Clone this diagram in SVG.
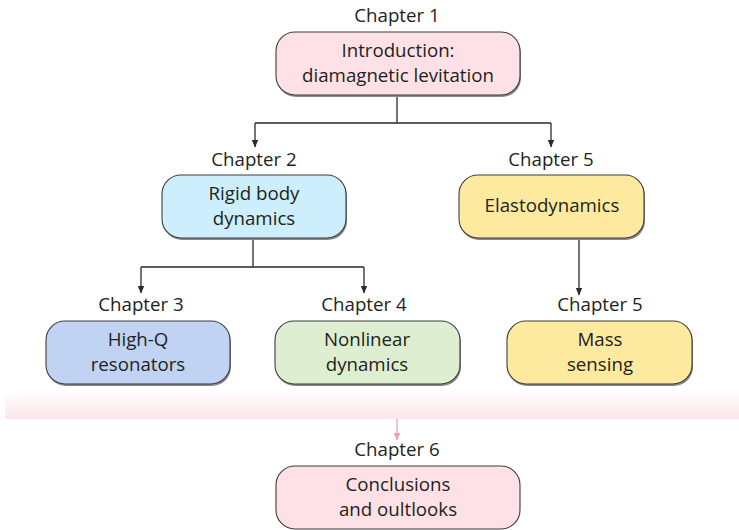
<svg xmlns="http://www.w3.org/2000/svg" width="739" height="530" viewBox="0 0 739 530">
<defs>
<marker id="ah" markerWidth="8" markerHeight="10" refX="7" refY="4" orient="auto" markerUnits="userSpaceOnUse" viewBox="0 0 8 8">
<path d="M0,0.8 L7.5,4 L0,7.2 Z" fill="#2b2b2b"/>
</marker>
<marker id="ahp" markerWidth="8" markerHeight="10" refX="7" refY="4" orient="auto" markerUnits="userSpaceOnUse" viewBox="0 0 8 8">
<path d="M0,0.8 L7.5,4 L0,7.2 Z" fill="#f39aac"/>
</marker>
<linearGradient id="band" x1="0" y1="0" x2="0" y2="1">
<stop offset="0" stop-color="#ffffff"/>
<stop offset="1" stop-color="#fde6ea"/>
</linearGradient>
</defs>
<style>
text{font-family:"Open Sans","Noto Sans","Liberation Sans",sans-serif;font-size:18.7px;fill:#231f20;text-anchor:middle}
.box{stroke:#3d3d3d;stroke-width:1.1}
.sh{fill:#8a8a8a}
.con{fill:none;stroke:#2b2b2b;stroke-width:1.3}
</style>
<rect x="5" y="390" width="734" height="29" fill="url(#band)"/>
<g id="connectors">
<path class="con" d="M397,95 V123 M255,123 H551"/>
<path class="con" d="M255,123 V147" marker-end="url(#ah)"/>
<path class="con" d="M551,123 V147" marker-end="url(#ah)"/>
<path class="con" d="M253,238 V267 M141,267 H364"/>
<path class="con" d="M141,267 V293" marker-end="url(#ah)"/>
<path class="con" d="M364,267 V293" marker-end="url(#ah)"/>
<path class="con" d="M579,238 V295" marker-end="url(#ah)"/>
<path d="M397,419 V440" fill="none" stroke="#f39aac" stroke-width="1.2" marker-end="url(#ahp)"/>
</g>
<g id="ch1">
<text x="397" y="22">Chapter 1</text>
<rect class="sh" x="277" y="34" width="244" height="63" rx="19"/>
<rect class="box" x="276" y="32" width="244" height="63" rx="19" fill="#fde1e6"/>
<text x="398" y="57">Introduction:</text>
<text x="398" y="82">diamagnetic levitation</text>
</g>
<g id="ch2">
<text x="254" y="166">Chapter 2</text>
<rect class="sh" x="163" y="177" width="184" height="63" rx="19"/>
<rect class="box" x="162" y="175" width="184" height="63" rx="19" fill="#cdeefc"/>
<text x="254" y="200">Rigid body</text>
<text x="254" y="225">dynamics</text>
</g>
<g id="ch5a">
<text x="551" y="166">Chapter 5</text>
<rect class="sh" x="460" y="177" width="185" height="63" rx="19"/>
<rect class="box" x="459" y="175" width="185" height="63" rx="19" fill="#fdea9f"/>
<text x="552" y="212">Elastodynamics</text>
</g>
<g id="ch3">
<text x="141" y="311">Chapter 3</text>
<rect class="sh" x="47" y="323" width="184" height="63" rx="19"/>
<rect class="box" x="46" y="321" width="184" height="63" rx="19" fill="#c1d3f3"/>
<text x="138" y="346">High-Q</text>
<text x="138" y="371">resonators</text>
</g>
<g id="ch4">
<text x="364" y="311">Chapter 4</text>
<rect class="sh" x="276" y="323" width="185" height="63" rx="19"/>
<rect class="box" x="275" y="321" width="185" height="63" rx="19" fill="#ddeed1"/>
<text x="367" y="346">Nonlinear</text>
<text x="367" y="371">dynamics</text>
</g>
<g id="ch5b">
<text x="600" y="311">Chapter 5</text>
<rect class="sh" x="508" y="323" width="185" height="63" rx="19"/>
<rect class="box" x="507" y="321" width="185" height="63" rx="19" fill="#fdea9f"/>
<text x="600" y="346">Mass</text>
<text x="600" y="371">sensing</text>
</g>
<g id="ch6">
<text x="397" y="456">Chapter 6</text>
<rect class="box" x="276" y="466" width="244" height="63" rx="19" fill="#fde1e6"/>
<text x="398" y="491">Conclusions</text>
<text x="398" y="516">and oultlooks</text>
</g>
</svg>
